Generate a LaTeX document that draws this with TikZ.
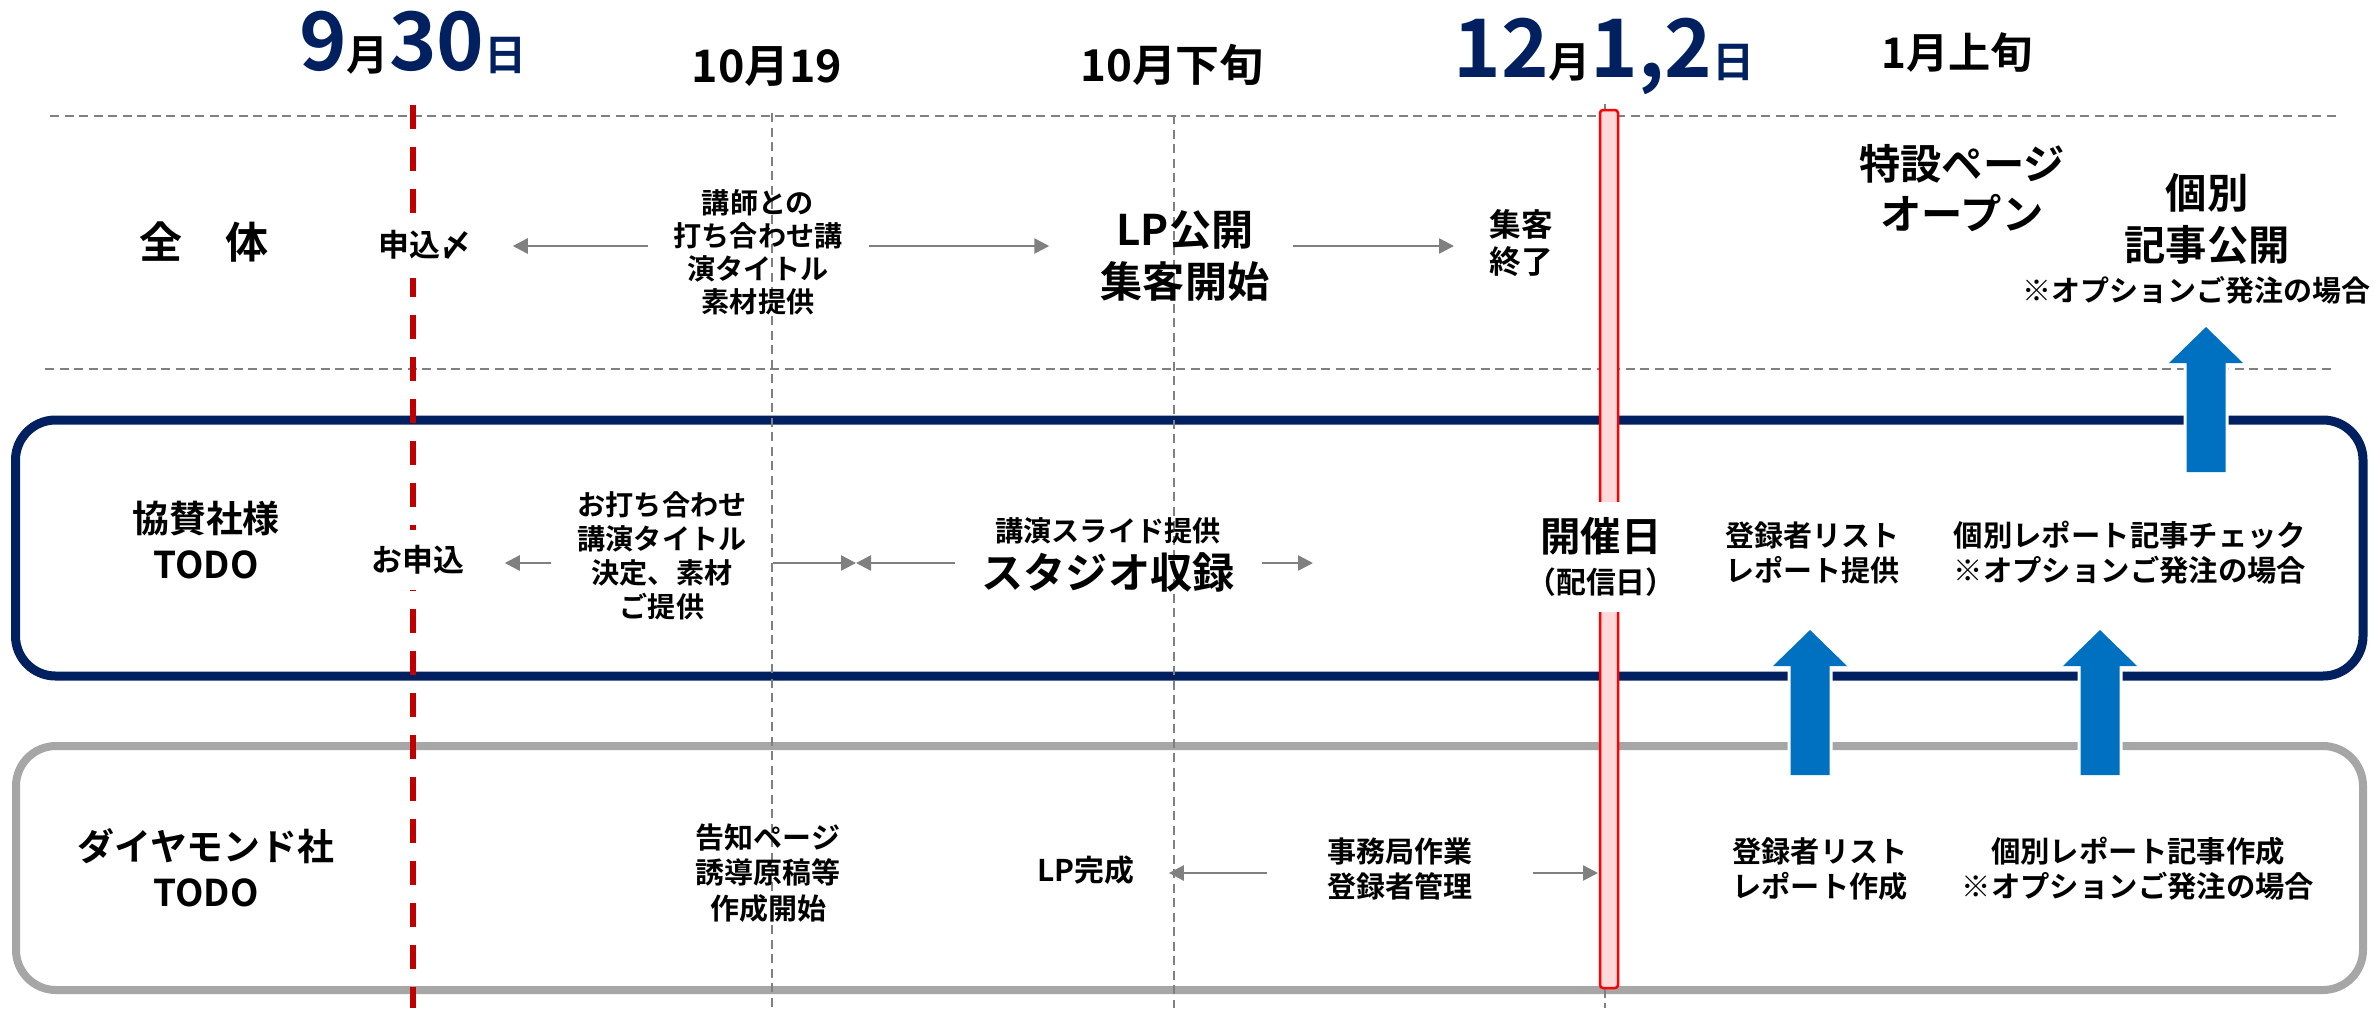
\documentclass[tikz,border=0pt]{standalone}
\usepackage{fontspec}
\setmainfont{Noto Sans CJK JP}[BoldFont={* Bold}]
\usetikzlibrary{arrows.meta,positioning}
\definecolor{navy}{HTML}{002060}
\definecolor{darkred}{HTML}{C00000}
\definecolor{barpink}{HTML}{FFD9D9}
\definecolor{boxgray}{HTML}{A6A6A6}
\definecolor{linegray}{HTML}{808080}
\definecolor{arrowblue}{HTML}{0070C0}
\newcommand{\fsz}[2]{\fontsize{#1}{#2}\selectfont}
% block arrow pointing up: x of centre, y of tip
\newcommand{\bluearrow}[2]{%
  \draw[white, line width=1.2mm, fill=white] (#1-19.5,#2+145) -- (#1-19.5,#2+36) -- (#1-37,#2+36) -- (#1,#2) -- (#1+37,#2+36) -- (#1+19.5,#2+36) -- (#1+19.5,#2+145) -- cycle;
  \fill[arrowblue] (#1-19.5,#2+145) -- (#1-19.5,#2+36) -- (#1-37,#2+36) -- (#1,#2) -- (#1+37,#2+36) -- (#1+19.5,#2+36) -- (#1+19.5,#2+145) -- cycle;
}

\begin{document}
\begin{tikzpicture}[x=0.2mm, y=-0.2mm,
    txt/.style={inner sep=0pt, align=center},
    garrow/.style={draw=linegray, line width=0.5mm, -{Triangle[length=3mm,width=3mm]}},
    dline/.style={linegray, line width=0.4mm, dash pattern=on 1.8mm off 1.1mm}]
	\useasboundingbox (0,0) rectangle (2374,1008);
	\fill[white] (0,0) rectangle (2374,1008);

	% guide lines
	\draw[dline] (50,116) -- (2340,116);
	\draw[dline] (45,369) -- (2335,369);

	% lanes
	\draw[navy, line width=1.8mm, rounded corners=8mm] (15.5,420) rectangle (2363,676);
	\draw[boxgray, line width=1.6mm, rounded corners=8mm] (16,746) rectangle (2363,990);

	\foreach \x/\y in {772/113, 1174/115, 1605/104}
		\draw[dline] (\x,\y) -- (\x,1008);
	\draw[darkred, line width=1.2mm, dash pattern=on 4.8mm off 3.6mm] (413,105) -- (413,1008);
	\draw[red, line width=0.5mm, fill=barpink, rounded corners=0.6mm] (1600,110) rectangle (1618,988);

	\bluearrow{2206}{327}
	\bluearrow{1810}{630}
	\bluearrow{2100}{630}

	% dates
	\node[txt, anchor=base, text=navy, font=\bfseries\fsz{46}{46}] (d0930) at (413,70) {9{\fsz{24}{24}\color{black}月}30{\fsz{24}{24}日}};
	\node[txt, anchor=base, font=\bfseries\fsz{25.5}{26}] (d1019) at (767,82) {10月19};
	\node[txt, anchor=base, font=\bfseries\fsz{25}{26}] (d10ge) at (1172,81) {10月下旬};
	\node[txt, anchor=base, text=navy, font=\bfseries\fsz{46}{46}] (d1201) at (1604,77) {12{\fsz{24}{24}\color{black}月}1,2{\fsz{24}{24}日}};
	\node[txt, anchor=base, font=\bfseries\fsz{24}{26}] (d0101) at (1957,68) {1月上旬};

	% row labels
	\node[txt, font=\bfseries\fsz{24.5}{30}] (zentai) at (204,242) {全　体};
	\node[txt, font=\bfseries\fsz{21}{26}] (kyosan) at (206,540) {協賛社様\\TODO};
	\node[txt, font=\bfseries\fsz{21}{26}] (diamond) at (206,868) {ダイヤモンド社\\TODO};

	% whole
	\node[txt, fill=white, minimum height=13mm, font=\bfseries\fsz{17.6}{20}] (moushi1) at (425,245) {申込〆};
	\node[txt, font=\bfseries\fsz{16}{18.8}] (koushi) at (758,252) {講師との\\打ち合わせ講\\演タイトル\\素材提供};
	\node[txt, font=\bfseries\fsz{24}{30}] (lpkoukai) at (1185,256) {LP公開\\集客開始};
	\node[txt, font=\bfseries\fsz{18}{21}] (shukyaku) at (1521,243) {集客\\終了};
	\node[txt, font=\bfseries\fsz{23.5}{28.5}] (tokusetsu) at (1962,188) {特設ページ\\オープン};
	\node[txt, font=\bfseries\fsz{23.5}{29.5}] (kobetsu) at (2207,219) {個別\\記事公開};
	\node[txt, anchor=east, font=\bfseries\fsz{16.5}{20}] (option1) at (2371,290) {※オプションご発注の場合};

	% sponsor
	\node[txt, fill=white, minimum height=12mm, font=\bfseries\fsz{17.6}{20}] (omoushi) at (418,560) {お申込};
	\node[txt, font=\bfseries\fsz{16}{19.3}] (uchiawase) at (662,556) {お打ち合わせ\\講演タイトル\\決定、素材\\ご提供};
	\node[txt, font=\bfseries\fsz{24}{28}] (studio) at (1108,572) {スタジオ収録};
	\node[txt, font=\bfseries\fsz{16}{18}, above=1.4mm of studio] (kouen) {講演スライド提供};
	\node[txt, fill=white, minimum height=22mm, font=\bfseries\fsz{23}{24}] (kaisai) at (1601,557) {開催日\\{\fsz{17}{24}（配信日）}};
	\node[txt, font=\bfseries\fsz{16.5}{20}] (touroku1) at (1812,553) {登録者リスト\\レポート提供};
	\node[txt, font=\bfseries\fsz{16.7}{20}] (kobetsu2) at (2130,553) {個別レポート記事チェック\\※オプションご発注の場合};

	% diamond
	\node[txt, font=\bfseries\fsz{16.5}{20}] (kokuchi) at (768,873) {告知ページ\\誘導原稿等\\作成開始};
	\node[txt, font=\bfseries\fsz{17}{20}] (lpkansei) at (1086,870) {LP完成};
	\node[txt, font=\bfseries\fsz{16.5}{19.5}] (jimu) at (1400,869) {事務局作業\\登録者管理};
	\node[txt, font=\bfseries\fsz{16.6}{20}] (touroku2) at (1820,869) {登録者リスト\\レポート作成};
	\node[txt, font=\bfseries\fsz{16.7}{20}] (kobetsu3) at (2138,869) {個別レポート記事作成\\※オプションご発注の場合};

	\coordinate (r1) at (0,246);
	\coordinate (r2) at (0,563);
	\coordinate (r3) at (0,873);
	\coordinate (meet) at (856,563);
	\coordinate (studioend) at (1313,563);
	\coordinate (barhit) at (1598,873);

	\draw[garrow, shorten <=5mm, shorten >=8.2mm] (koushi.west |- r1) -- (moushi1.east |- r1);
	\draw[garrow, shorten <=5.2mm, shorten >=10.2mm] (koushi.east |- r1) -- (lpkoukai.west |- r1);
	\draw[garrow, shorten <=4.6mm, shorten >=7mm] (lpkoukai.east |- r1) -- (shukyaku.west |- r1);

	\draw[garrow, shorten <=5.2mm, shorten >=8mm] (uchiawase.west |- r2) -- (omoushi.east |- r2);
	\draw[garrow, shorten <=5.2mm] (uchiawase.east |- r2) -- (meet);
	\draw[garrow, shorten <=5.2mm] (studio.west |- r2) -- (meet);
	\draw[garrow, shorten <=5.4mm] (studio.east |- r2) -- (studioend);

	\draw[garrow, shorten <=12mm, shorten >=6.8mm] (jimu.west |- r3) -- (lpkansei.east |- r3);
	\draw[garrow, shorten <=12mm] (jimu.east |- r3) -- (barhit);
\end{tikzpicture}
\end{document}
